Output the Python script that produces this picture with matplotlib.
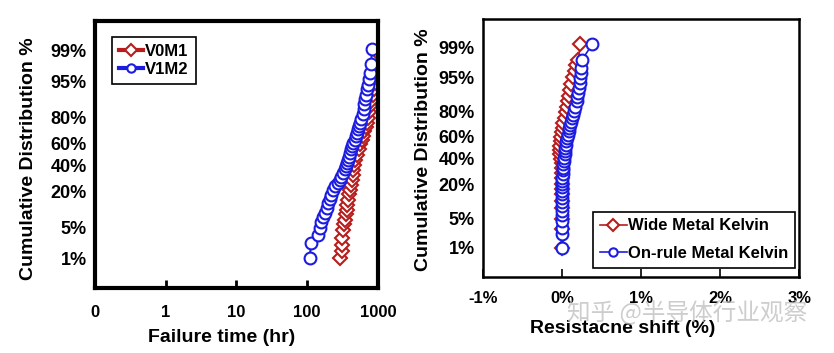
import matplotlib
matplotlib.use("Agg")
import matplotlib.pyplot as plt
from statistics import NormalDist

plt.rcParams["font.family"] = ["Liberation Sans", "Noto Sans CJK SC", "DejaVu Sans"]
plt.rcParams["font.weight"] = "bold"

# left panel: failure time (hr) vs cumulative %
v0m1_pct = [1, 1.5, 2.1, 3, 4.5, 5.8, 7.1, 9, 10.7, 13, 15.5, 18.5, 21.5, 25, 28.7,
            32.5, 36.7, 41, 45.5, 50, 54.5, 59, 63, 66.5, 70, 73, 76, 79.5, 83, 86,
            88.5, 91, 93, 94.6, 96, 97, 97.7, 98.9]
v0m1_hr = [289, 306, 306, 313, 324, 332, 341, 350, 361, 370, 380, 390, 402, 414, 426,
           438, 450, 462, 475, 505, 535, 562, 590, 615, 640, 668, 697, 722, 750, 777,
           810, 840, 870, 900, 935, 965, 1000, 1010]

v1m2_pct = [1, 2.3, 3.5, 4.9, 6.6, 8, 9.4, 11.5, 13.8, 16, 18.3, 21, 23.7, 26, 28.6, 31,
            34, 37, 40, 42.6, 45, 48, 51.5, 54.5, 57.5, 60.4, 63, 66, 68.8, 71.5, 74,
            76.3, 79, 82, 84.5, 87, 89.3, 91, 92.9, 94.2, 95.5, 96.7, 97.9, 99.1]
v1m2_hr = [108, 114, 142, 150, 158, 168, 177, 188, 198, 209, 220, 233, 246, 268, 289, 305,
           323, 340, 352, 361, 375, 388, 402, 418, 434, 450, 467, 485, 501, 520, 540,
           559, 582, 605, 625, 642, 659, 678, 697, 716, 736, 777, 802, 820]

# right panel: resistance shift (%) vs cumulative %
wide_pct = [1, 3, 5, 8, 11, 14, 17, 20, 24, 28, 32, 36, 40, 44, 48, 52, 56, 60, 64, 68,
            72, 76, 80, 83, 86, 88.5, 91, 93, 95, 96.3, 97.3, 98, 99.2]
wide_shift = [0, 0, 0, 0, 0, 0, 0, 0, 0, 0, 0, -0.01, -0.02, -0.03, -0.035, -0.03, -0.02,
              -0.015, -0.005, 0.005, 0.015, 0.03, 0.045, 0.06, 0.07, 0.085, 0.1, 0.11,
              0.13, 0.155, 0.175, 0.2, 0.23]

onrule_pct = [1, 2.2, 3.1, 4.4, 5.8, 7.2, 8.7, 10.3, 12, 14, 16, 18, 20, 22, 24, 27, 30,
              32, 35, 38, 41, 44, 47, 50, 53, 56, 59, 62, 65, 68, 70.5, 73, 75.5, 78,
              80.5, 83, 86, 88, 90, 91.9, 93.5, 94.8, 96, 96.9, 98, 99.2]
onrule_shift = [0, 0, 0, 0, 0, 0, 0, 0, 0, 0, 0, 0, 0, 0, 0, 0.005, 0.005, 0.008, 0.012,
                0.017, 0.022, 0.03, 0.035, 0.04, 0.045, 0.05, 0.06, 0.07, 0.08, 0.09,
                0.1, 0.11, 0.12, 0.135, 0.15, 0.16, 0.18, 0.19, 0.2, 0.21, 0.22, 0.23,
                0.235, 0.24, 0.25, 0.38]

ytick_pct = [1, 5, 20, 40, 60, 80, 95, 99]
ytick_labels = ["1%", "5%", "20%", "40%", "60%", "80%", "95%", "99%"]

RED = "#b81c1c"
BLUE = "#1c1ce0"

nd = NormalDist()


def to_z(pcts):
    # normal probability scale
    return [nd.inv_cdf(p / 100.0) for p in pcts]


def style_prob_axis(ax, spine_w):
    ax.set_ylim(-3, 3)
    ax.set_yticks(to_z(ytick_pct))
    ax.set_yticklabels(ytick_labels)
    ax.tick_params(axis="y", length=0, pad=6, labelsize=13)
    for s in ax.spines.values():
        s.set_linewidth(spine_w)


def draw_series(ax, x, pct, color, marker, ms, label, lw):
    ax.plot(x, to_z(pct), color=color, lw=lw, marker=marker, ms=ms,
            mfc="white", mec=color, mew=1.5, label=label)


fig = plt.figure(figsize=(8.34, 3.53), dpi=100)

# ---- left panel
ax1 = fig.add_axes([0.1139, 0.1841, 0.3393, 0.7564])
draw_series(ax1, v0m1_hr, v0m1_pct, RED, "D", 7, "V0M1", 1.5)
draw_series(ax1, v1m2_hr, v1m2_pct, BLUE, "o", 8.5, "V1M2", 1.5)
ax1.set_xscale("log")
ax1.set_xlim(0.1, 1000)
ax1.set_xticks([0.1, 1, 10, 100, 1000])
ax1.set_xticklabels(["0", "1", "10", "100", "1000"])
ax1.minorticks_off()
ax1.tick_params(axis="x", direction="in", length=6, width=2, pad=12, labelsize=12)
style_prob_axis(ax1, 3)
ax1.set_xlabel("Failure time (hr)", fontsize=14, fontweight="bold")
ax1.xaxis.set_label_coords(0.266, 0.0453, transform=fig.transFigure)
ax1.xaxis.label.set_va("center")
ax1.set_ylabel("Cumulative Distribution %", fontsize=14, fontweight="bold")
ax1.yaxis.set_label_coords(0.034, 0.5515, transform=fig.transFigure)
ax1.yaxis.label.set_va("center")
leg1 = ax1.legend(loc="upper left", bbox_to_anchor=(0.1339, 0.896),
                  bbox_transform=fig.transFigure, fancybox=False, framealpha=1,
                  edgecolor="black", fontsize=12, handlelength=1.4, handletextpad=0.15,
                  labelspacing=0.15, borderpad=0.45, borderaxespad=0)
leg1.get_frame().set_linewidth(1.2)
for h in leg1.get_lines():
    h.set_linewidth(3)
    h.set_markersize(6)

# ---- right panel
ax2 = fig.add_axes([0.5795, 0.2161, 0.3789, 0.7301])
draw_series(ax2, wide_shift, wide_pct, RED, "D", 7, "Wide Metal Kelvin", 1.2)
draw_series(ax2, onrule_shift, onrule_pct, BLUE, "o", 8.5, "On-rule Metal Kelvin", 1.2)
ax2.set_xlim(-1, 3)
ax2.set_xticks([-1, 0, 1, 2, 3])
ax2.set_xticklabels(["-1%", "0%", "1%", "2%", "3%"])
ax2.tick_params(axis="x", direction="in", length=6, width=1.2, pad=10, labelsize=12)
style_prob_axis(ax2, 1.8)
ax2.set_xlabel("Resistacne shift (%)", fontsize=14, fontweight="bold")
ax2.xaxis.set_label_coords(0.747, 0.0708, transform=fig.transFigure)
ax2.xaxis.label.set_va("center")
ax2.set_ylabel("Cumulative Distribution %", fontsize=14, fontweight="bold")
ax2.yaxis.set_label_coords(0.5076, 0.575, transform=fig.transFigure)
ax2.yaxis.label.set_va("center")
leg2 = ax2.legend(loc="upper left", bbox_to_anchor=(0.7114, 0.4003),
                  bbox_transform=fig.transFigure, fancybox=False, framealpha=1,
                  edgecolor="black", fontsize=12, handlelength=1.6, handletextpad=0.1,
                  labelspacing=0.75, borderpad=0.4, borderaxespad=0)
leg2.get_frame().set_linewidth(1.2)
for h in leg2.get_lines():
    h.set_linewidth(1.2)
    h.set_markersize(6)

# watermark
fig.text(0.824, 0.113, "知乎 @半导体行业观察", fontsize=17, color="#bdbdbd",
         alpha=0.75, ha="center", va="center", fontweight="normal",
         family=["Noto Sans CJK SC", "DejaVu Sans"])

fig.savefig("out.png", dpi=100)
